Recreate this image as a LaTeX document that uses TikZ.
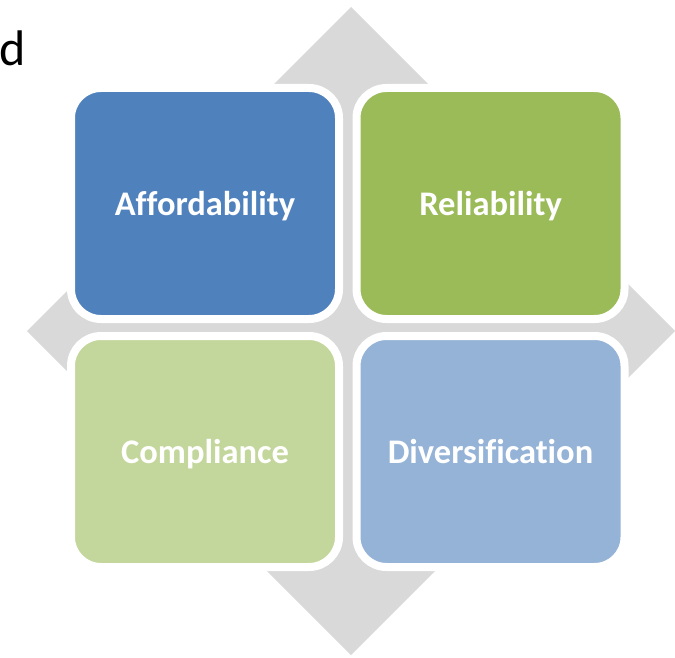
\documentclass[tikz,border=0pt]{standalone}
\usepackage{fontspec}
\setmainfont{Carlito}[Ligatures=NoCommon]
\usetikzlibrary{positioning}

\definecolor{diamondgray}{HTML}{D9D9D9}
\definecolor{affblue}{HTML}{4F81BD}
\definecolor{relgreen}{HTML}{9BBB59}
\definecolor{comgreen}{HTML}{C3D69B}
\definecolor{divblue}{HTML}{95B3D7}

\begin{document}
\begin{tikzpicture}[x=1pt,y=-1pt,node distance=17pt and 17.5pt]
  \tikzstyle{quad}=[rectangle,rounded corners=30pt,draw=white,line width=8pt,outer sep=0pt,
    minimum width=268pt,minimum height=231pt,text height=23pt,text depth=0pt,
    text=white,font=\bfseries\fontsize{34.5}{40}\selectfont]
  \useasboundingbox (0,0) rectangle (675,658);

  % background diamond
  \fill[diamondgray] (351,7) -- (675,331) -- (351,655) -- (27,331) -- cycle;

  \node[anchor=west,inner sep=0pt,font=\fontsize{50}{58}\selectfont] (cut) at (-1,48) {d};

  \node[quad,fill=affblue]  (aff)                    at (205,203.5) {Affordability};
  \node[quad,fill=relgreen] (rel) [right=of aff] {Reliability};
  \node[quad,fill=comgreen] (com) [below=of aff] {Compliance};
  \node[quad,fill=divblue]  (div) [right=of com] {Diversification};
\end{tikzpicture}
\end{document}
